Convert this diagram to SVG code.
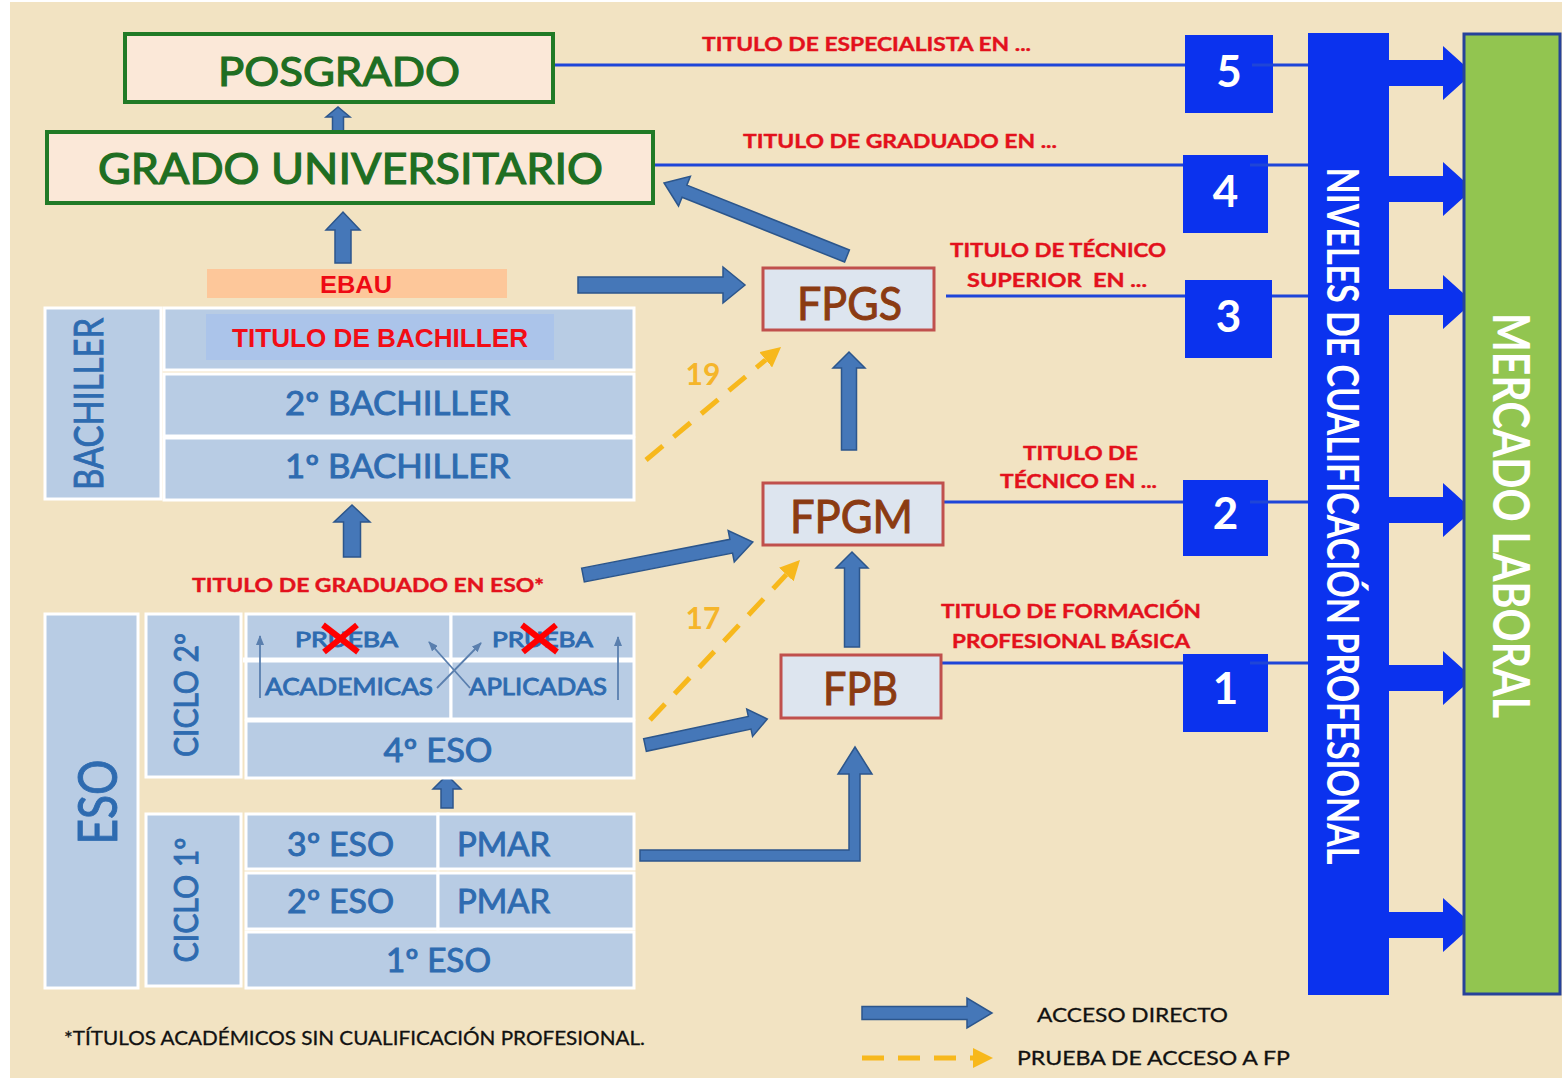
<svg xmlns="http://www.w3.org/2000/svg" width="1562" height="1081" viewBox="0 0 1562 1081">
<style>
.cell{fill:#b8cce4;stroke:#ffffff;stroke-width:3}
.ct{font-family:Lato,"Open Sans",sans-serif;fill:#2e6bb0;stroke:#2e6bb0;stroke-width:0.9;text-anchor:middle}
.ba{fill:#4577b8;stroke:#2c568c;stroke-width:1.5}
.ya{fill:none;stroke:#f7b81c;stroke-width:5;stroke-dasharray:22 14}
.rl{font-family:Lato,"Open Sans",sans-serif;font-weight:700;font-size:19px;fill:#e3111c;stroke:#e3111c;stroke-width:0.4}
.fp{fill:#dde5ef;stroke:#c0504d;stroke-width:3}
.fpt{font-family:Lato,"Open Sans",sans-serif;font-size:46px;fill:#8b3b12;stroke:#8b3b12;stroke-width:1;text-anchor:middle}
.bl{stroke:#1f45d8;stroke-width:3}
.nb{fill:#0b32ee}
.nt{font-family:Lato,"Open Sans",sans-serif;font-weight:700;font-size:44px;fill:#ffffff;text-anchor:middle}
.gr{fill:#fbe8d8;stroke:#217a26;stroke-width:4}
.grt{font-family:Lato,"Open Sans",sans-serif;fill:#1f6e22;stroke:#1f6e22;stroke-width:1.2;text-anchor:middle}
.ta{fill:none;stroke:#5a7fae;stroke-width:1.8}
.rx{stroke:#ff0000;stroke-width:6}
.lg{font-family:Lato,"Open Sans",sans-serif;font-size:20px;fill:#111111;stroke:#111111;stroke-width:0.3}
</style>
<defs>
<marker id="ym" viewBox="0 0 10 10" refX="0" refY="5" markerWidth="20" markerHeight="20" markerUnits="userSpaceOnUse" orient="auto"><path d="M0,0 L10,5 L0,10 z" fill="#f7b81c"/></marker>
<marker id="tm" viewBox="0 0 10 8" refX="9" refY="4" markerWidth="10" markerHeight="8" markerUnits="userSpaceOnUse" orient="auto"><path d="M0,0 L10,4 L0,8 z" fill="#5a7fae"/></marker>
</defs>
<rect x="0" y="0" width="1562" height="1081" fill="#ffffff"/>
<rect x="10" y="2" width="1552" height="1076" fill="#f2e3c2"/>

<!-- connectors -->
<g id="connectors">
<line class="bl" x1="553" y1="65" x2="1308" y2="65"/>
<line class="bl" x1="653" y1="165" x2="1308" y2="165"/>
<line class="bl" x1="946" y1="296" x2="1308" y2="296"/>
<line class="bl" x1="943" y1="502" x2="1308" y2="502"/>
<line class="bl" x1="941" y1="663" x2="1308" y2="663"/>
<polygon class="ba" points="0,-5.5 15,-5.5 15,-12 25,0 15,12 15,5.5 0,5.5" transform="translate(338,132) rotate(-90)"/>
<polygon class="ba" points="0,-8 33,-8 33,-17 51,0 33,17 33,8 0,8" transform="translate(343,263) rotate(-90)"/>
<polygon class="ba" points="0,-8 145,-8 145,-18 167,0 145,18 145,8 0,8" transform="translate(578,285)"/>
<polygon class="ba" points="0,-6.5 175,-6.5 175,-16 197,0 175,16 175,6.5 0,6.5" transform="translate(847,256) rotate(201.75)"/>
<polygon class="ba" points="0,-7.5 82,-7.5 82,-16 98,0 82,16 82,7.5 0,7.5" transform="translate(849,450) rotate(-90)"/>
<polygon class="ba" points="0,-7 151,-7 151,-16 173,0 151,16 151,7 0,7" transform="translate(583,575) rotate(-11)"/>
<polygon class="ba" points="0,-7.5 79,-7.5 79,-16 95,0 79,16 79,7.5 0,7.5" transform="translate(852,647) rotate(-90)"/>
<polygon class="ba" points="0,-6.5 107,-6.5 107,-14 125,0 107,14 107,6.5 0,6.5" transform="translate(645,745) rotate(-12)"/>
<polygon class="ba" points="640,850 849,850 849,774 838,774 855,747 872,774 860,774 860,861 640,861"/>
<polygon class="ba" points="0,-6 19,-6 19,-14 33,0 19,14 19,6 0,6" transform="translate(447,808) rotate(-90)"/>
<polygon class="ba" points="0,-8.5 35,-8.5 35,-18 52,0 35,18 35,8.5 0,8.5" transform="translate(352,557) rotate(-90)"/>
<line class="ya" x1="646" y1="460" x2="765.7" y2="359.8" marker-end="url(#ym)"/>
<line class="ya" x1="650" y1="720" x2="786.3" y2="574.6" marker-end="url(#ym)"/>
<g fill="#0b32ee">
<polygon points="1388,-13 1443,-13 1443,-27 1473,0 1443,27 1443,13 1388,13" transform="translate(0,73)"/>
<polygon points="1388,-13 1443,-13 1443,-27 1473,0 1443,27 1443,13 1388,13" transform="translate(0,189)"/>
<polygon points="1388,-13 1443,-13 1443,-27 1473,0 1443,27 1443,13 1388,13" transform="translate(0,302)"/>
<polygon points="1388,-13 1443,-13 1443,-27 1473,0 1443,27 1443,13 1388,13" transform="translate(0,510)"/>
<polygon points="1388,-13 1443,-13 1443,-27 1473,0 1443,27 1443,13 1388,13" transform="translate(0,678)"/>
<polygon points="1388,-13 1443,-13 1443,-27 1473,0 1443,27 1443,13 1388,13" transform="translate(0,925)"/>
</g>
</g>

<g id="posgrado"><rect class="gr" x="125" y="34" width="428" height="68"/><text class="grt" x="339" y="86" font-size="40" textLength="242" lengthAdjust="spacingAndGlyphs">POSGRADO</text></g>
<g id="grado"><rect class="gr" x="47" y="132" width="606" height="71"/><text class="grt" x="350.5" y="184" font-size="42" textLength="505" lengthAdjust="spacingAndGlyphs">GRADO UNIVERSITARIO</text></g>
<g id="ebau"><rect x="207" y="269" width="300" height="29" fill="#fdc79a"/><text x="356" y="293" font-family="'Liberation Sans',Arial,sans-serif" font-weight="700" font-size="24" fill="#ee0a14" text-anchor="middle" textLength="72" lengthAdjust="spacingAndGlyphs">EBAU</text></g>

<g id="bachiller">
<rect class="cell" x="45" y="308" width="116" height="191"/>
<text class="ct" font-size="40" transform="translate(103,404) rotate(-90)" textLength="172" lengthAdjust="spacingAndGlyphs">BACHILLER</text>
<rect class="cell" x="164" y="308" width="470" height="62"/>
<rect x="206" y="314" width="348" height="46" fill="#abc4ea"/>
<text x="380" y="347" font-family="'Liberation Sans',Arial,sans-serif" font-weight="700" font-size="26" fill="#f20d16" text-anchor="middle" textLength="296" lengthAdjust="spacingAndGlyphs">TITULO DE BACHILLER</text>
<rect class="cell" x="164" y="374" width="470" height="62"/>
<text class="ct" x="397.5" y="415" font-size="32" textLength="225" lengthAdjust="spacingAndGlyphs">2º BACHILLER</text>
<rect class="cell" x="164" y="438" width="470" height="62"/>
<text class="ct" x="397.5" y="478" font-size="32" textLength="225" lengthAdjust="spacingAndGlyphs">1º BACHILLER</text>
</g>

<text class="rl" x="368" y="592" font-size="20" text-anchor="middle" textLength="352" lengthAdjust="spacingAndGlyphs">TITULO DE GRADUADO EN ESO*</text>

<g id="eso">
<rect class="cell" x="45" y="614" width="93" height="374"/>
<text class="ct" font-size="54" transform="translate(117,802) rotate(-90)" textLength="85" lengthAdjust="spacingAndGlyphs">ESO</text>
<rect class="cell" x="146" y="614" width="95" height="163"/>
<text class="ct" font-size="32" transform="translate(198,695) rotate(-90)" textLength="124" lengthAdjust="spacingAndGlyphs">CICLO 2º</text>
<rect class="cell" x="246" y="614" width="205" height="105"/>
<rect class="cell" x="451" y="614" width="183" height="105"/>
<line x1="243" y1="660" x2="634" y2="660" stroke="#ffffff" stroke-width="5"/>
<text class="ct" x="346.5" y="647" font-size="21" textLength="103" lengthAdjust="spacingAndGlyphs">PRUEBA</text>
<text class="ct" x="542.5" y="647" font-size="21" textLength="101" lengthAdjust="spacingAndGlyphs">PRUEBA</text>
<text class="ct" x="349" y="695" font-size="24" textLength="168" lengthAdjust="spacingAndGlyphs">ACADEMICAS</text>
<text class="ct" x="538" y="695" font-size="24" textLength="138" lengthAdjust="spacingAndGlyphs">APLICADAS</text>
<line class="ta" x1="260" y1="698" x2="260" y2="636" marker-end="url(#tm)"/>
<line class="ta" x1="618" y1="700" x2="618" y2="637" marker-end="url(#tm)"/>
<line class="ta" x1="437" y1="688" x2="481" y2="643" marker-end="url(#tm)"/>
<line class="ta" x1="470" y1="688" x2="429" y2="642" marker-end="url(#tm)"/>
<line class="rx" x1="323" y1="625" x2="358" y2="652"/><line class="rx" x1="357" y1="625" x2="324" y2="652"/>
<line class="rx" x1="522" y1="625" x2="557" y2="652"/><line class="rx" x1="556" y1="625" x2="523" y2="652"/>
<rect class="cell" x="246" y="721" width="388" height="57"/>
<text class="ct" x="438" y="762" font-size="32" textLength="109" lengthAdjust="spacingAndGlyphs">4º ESO</text>
<rect class="cell" x="146" y="814" width="95" height="172"/>
<text class="ct" font-size="32" transform="translate(198,900) rotate(-90)" textLength="125" lengthAdjust="spacingAndGlyphs">CICLO 1º</text>
<rect class="cell" x="246" y="814" width="192" height="55"/>
<rect class="cell" x="438" y="814" width="196" height="55"/>
<text class="ct" x="340.5" y="856" font-size="32" textLength="107" lengthAdjust="spacingAndGlyphs">3º ESO</text>
<text class="ct" x="503.5" y="856" font-size="32" textLength="93" lengthAdjust="spacingAndGlyphs">PMAR</text>
<rect class="cell" x="246" y="873" width="192" height="56"/>
<rect class="cell" x="438" y="873" width="196" height="56"/>
<text class="ct" x="340.5" y="913" font-size="32" textLength="107" lengthAdjust="spacingAndGlyphs">2º ESO</text>
<text class="ct" x="503.5" y="913" font-size="32" textLength="93" lengthAdjust="spacingAndGlyphs">PMAR</text>
<rect class="cell" x="246" y="932" width="388" height="56"/>
<text class="ct" x="438.5" y="972" font-size="32" textLength="105" lengthAdjust="spacingAndGlyphs">1º ESO</text>
</g>

<text x="703" y="385" font-family="Lato,sans-serif" font-weight="700" font-size="30" fill="#f5b52a" text-anchor="middle">19</text>
<text x="703" y="629" font-family="Lato,sans-serif" font-weight="700" font-size="30" fill="#f5b52a" text-anchor="middle">17</text>

<g id="fpgs"><rect class="fp" x="763" y="268" width="171" height="62"/><text class="fpt" x="849.5" y="320" textLength="105" lengthAdjust="spacingAndGlyphs">FPGS</text></g>
<g id="fpgm"><rect class="fp" x="763" y="483" width="180" height="62"/><text class="fpt" x="851.5" y="533" textLength="123" lengthAdjust="spacingAndGlyphs">FPGM</text></g>
<g id="fpb"><rect class="fp" x="781" y="655" width="160" height="63"/><text class="fpt" x="860.5" y="705" textLength="75" lengthAdjust="spacingAndGlyphs">FPB</text></g>

<g id="labels">
<text class="rl" x="702" y="51" textLength="329" lengthAdjust="spacingAndGlyphs">TITULO DE ESPECIALISTA EN ...</text>
<text class="rl" x="743" y="148" textLength="314" lengthAdjust="spacingAndGlyphs">TITULO DE GRADUADO EN ...</text>
<text class="rl" x="950" y="257" textLength="216" lengthAdjust="spacingAndGlyphs">TITULO DE TÉCNICO</text>
<text class="rl" x="967" y="287" textLength="180" lengthAdjust="spacingAndGlyphs" xml:space="preserve">SUPERIOR  EN ...</text>
<text class="rl" x="1023" y="460" textLength="115" lengthAdjust="spacingAndGlyphs">TITULO DE</text>
<text class="rl" x="1000" y="488" textLength="157" lengthAdjust="spacingAndGlyphs">TÉCNICO EN ...</text>
<text class="rl" x="941" y="618" textLength="260" lengthAdjust="spacingAndGlyphs">TITULO DE FORMACIÓN</text>
<text class="rl" x="952" y="648" textLength="238" lengthAdjust="spacingAndGlyphs">PROFESIONAL BÁSICA</text>
</g>

<g id="n5"><rect class="nb" x="1185" y="35" width="88" height="78"/><line class="bl" x1="1252" y1="65" x2="1273" y2="65" stroke="#1a2f9a"/><text class="nt" x="1229" y="87">5</text></g>
<g id="n4"><rect class="nb" x="1183" y="155" width="85" height="78"/><line class="bl" x1="1250" y1="165" x2="1268" y2="165" stroke="#1a2f9a"/><text class="nt" x="1225.5" y="207">4</text></g>
<g id="n3"><rect class="nb" x="1185" y="280" width="87" height="78"/><text class="nt" x="1228.5" y="332">3</text></g>
<g id="n2"><rect class="nb" x="1183" y="480" width="85" height="76"/><line class="bl" x1="1250" y1="502" x2="1268" y2="502" stroke="#1a2f9a"/><text class="nt" x="1225.5" y="529">2</text></g>
<g id="n1"><rect class="nb" x="1183" y="654" width="85" height="78"/><line class="bl" x1="1250" y1="663" x2="1268" y2="663" stroke="#1a2f9a"/><text class="nt" x="1225.5" y="704">1</text></g>

<g id="niveles"><rect x="1308" y="33" width="81" height="962" fill="#0b32ee"/>
<text font-family="Lato,'Open Sans',sans-serif" font-weight="700" font-size="44" fill="#ffffff" text-anchor="middle" transform="translate(1327,516) rotate(90)" textLength="697" lengthAdjust="spacingAndGlyphs">NIVELES DE CUALIFICACIÓN PROFESIONAL</text></g>
<g id="mercado"><rect x="1464" y="34" width="96" height="960" fill="#92c550" stroke="#26429a" stroke-width="3"/>
<text font-family="Lato,'Open Sans',sans-serif" font-weight="700" font-size="52" fill="#ffffff" text-anchor="middle" transform="translate(1493,515.5) rotate(90)" textLength="405" lengthAdjust="spacingAndGlyphs">MERCADO LABORAL</text></g>

<g id="legend">
<polygon class="ba" points="0,-6.5 105,-6.5 105,-15 130,0 105,15 105,6.5 0,6.5" transform="translate(862,1013)"/>
<text class="lg" x="1037" y="1022" textLength="191" lengthAdjust="spacingAndGlyphs">ACCESO DIRECTO</text>
<line class="ya" x1="862" y1="1058" x2="973" y2="1058" marker-end="url(#ym)"/>
<text class="lg" x="1017" y="1065" textLength="273" lengthAdjust="spacingAndGlyphs">PRUEBA DE ACCESO A FP</text>
<text class="lg" x="64" y="1045" font-size="19" textLength="581" lengthAdjust="spacingAndGlyphs">*TÍTULOS ACADÉMICOS SIN CUALIFICACIÓN PROFESIONAL.</text>
</g>
</svg>
